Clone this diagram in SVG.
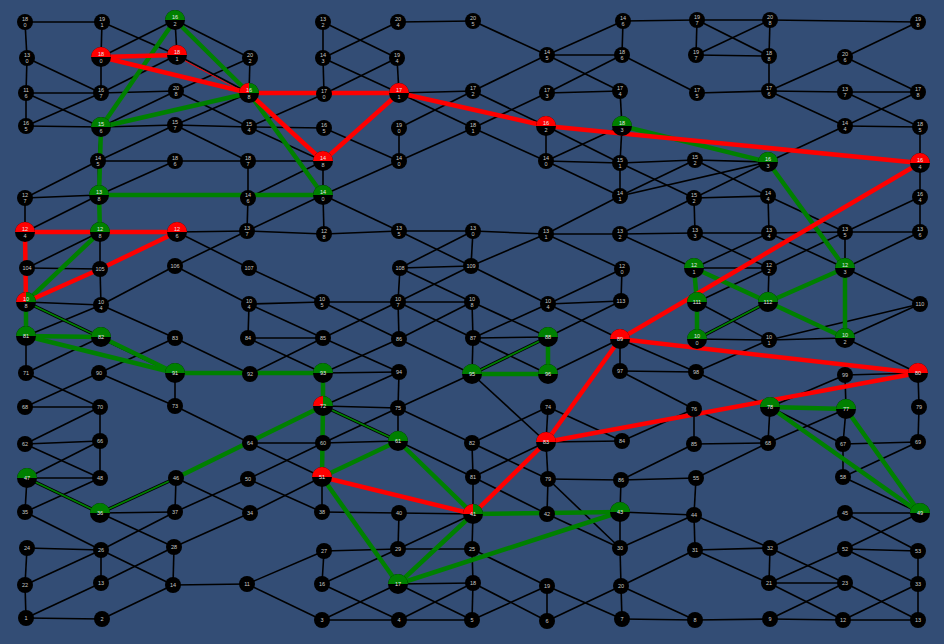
<svg xmlns="http://www.w3.org/2000/svg" width="944" height="644" viewBox="0 0 944 644">
<style>
.e line{stroke:#000;stroke-width:1.6}
.r{stroke:#f00;stroke-width:4.5;stroke-linecap:round}
.rt{stroke:#f00;stroke-width:1}
.g{stroke:#008000;stroke-width:4.5;stroke-linecap:round}
.gb{stroke:#000;stroke-width:3.4}
.gt{stroke:#008000;stroke-width:1.8}
.n circle{fill:#000}
.rf{fill:#f00}
.gf{fill:#008000}
text{font-family:"Liberation Sans",Arial,sans-serif;font-size:5.5px;fill:#c8c8c8;text-anchor:middle}
.c text.a{fill:#e8e8e8}
</style>
<rect width="944" height="644" fill="#334d75"/>
<g id="connectors">
<g class="e">
<line x1="25" y1="22" x2="102" y2="22"/><line x1="25" y1="22" x2="27" y2="58"/><line x1="102" y1="22" x2="101" y2="57"/><line x1="102" y1="22" x2="177" y2="55"/>
<line x1="175" y1="20" x2="101" y2="57"/><line x1="175" y1="20" x2="177" y2="55"/><line x1="175" y1="20" x2="250" y2="58"/>
<line x1="27" y1="58" x2="26" y2="93"/><line x1="27" y1="58" x2="101" y2="93"/><line x1="101" y1="57" x2="101" y2="93"/>
<line x1="26" y1="93" x2="101" y2="93"/><line x1="26" y1="93" x2="26" y2="126"/><line x1="26" y1="93" x2="101" y2="127"/>
<line x1="26" y1="126" x2="101" y2="93"/><line x1="26" y1="126" x2="101" y2="127"/><line x1="101" y1="93" x2="177" y2="55"/>
<line x1="101" y1="93" x2="176" y2="91"/><line x1="176" y1="91" x2="250" y2="58"/><line x1="176" y1="91" x2="249" y2="127"/>
<line x1="101" y1="127" x2="176" y2="91"/><line x1="101" y1="127" x2="175" y2="125"/><line x1="175" y1="125" x2="249" y2="127"/>
<line x1="175" y1="125" x2="248" y2="161"/><line x1="175" y1="125" x2="249" y2="93"/><line x1="101" y1="127" x2="98" y2="161"/>
<line x1="98" y1="161" x2="175" y2="161"/><line x1="98" y1="161" x2="175" y2="125"/><line x1="98" y1="161" x2="25" y2="198"/>
<line x1="98" y1="161" x2="99" y2="195"/><line x1="175" y1="161" x2="248" y2="161"/><line x1="175" y1="161" x2="99" y2="195"/>
<line x1="25" y1="198" x2="99" y2="195"/><line x1="25" y1="198" x2="25" y2="232"/><line x1="99" y1="195" x2="25" y2="232"/>
<line x1="250" y1="58" x2="249" y2="93"/><line x1="323" y1="22" x2="323" y2="58"/><line x1="323" y1="22" x2="397" y2="58"/>
<line x1="323" y1="58" x2="398" y2="22"/><line x1="398" y1="22" x2="473" y2="21"/><line x1="323" y1="58" x2="324" y2="94"/>
<line x1="323" y1="58" x2="399" y2="93"/><line x1="397" y1="58" x2="399" y2="93"/><line x1="397" y1="58" x2="324" y2="94"/>
<line x1="249" y1="93" x2="324" y2="94"/><line x1="399" y1="93" x2="473" y2="91"/><line x1="399" y1="93" x2="473" y2="128"/>
<line x1="324" y1="94" x2="249" y2="127"/><line x1="249" y1="127" x2="324" y2="128"/><line x1="249" y1="127" x2="323" y2="161"/>
<line x1="324" y1="128" x2="399" y2="161"/><line x1="399" y1="128" x2="399" y2="161"/><line x1="399" y1="161" x2="473" y2="128"/>
<line x1="399" y1="128" x2="473" y2="91"/><line x1="248" y1="161" x2="323" y2="161"/><line x1="248" y1="161" x2="248" y2="198"/>
<line x1="323" y1="161" x2="323" y2="195"/><line x1="323" y1="161" x2="248" y2="198"/><line x1="323" y1="195" x2="247" y2="231"/>
<line x1="323" y1="195" x2="324" y2="234"/><line x1="323" y1="195" x2="399" y2="231"/><line x1="399" y1="161" x2="323" y2="195"/>
<line x1="248" y1="198" x2="247" y2="231"/><line x1="177" y1="55" x2="249" y2="93"/>
<line x1="473" y1="21" x2="547" y2="55"/><line x1="547" y1="55" x2="623" y2="21"/><line x1="547" y1="55" x2="622" y2="55"/>
<line x1="547" y1="55" x2="620" y2="91"/><line x1="547" y1="55" x2="473" y2="91"/><line x1="623" y1="21" x2="622" y2="55"/>
<line x1="623" y1="21" x2="697" y2="20"/><line x1="622" y1="55" x2="547" y2="93"/><line x1="622" y1="55" x2="697" y2="93"/>
<line x1="547" y1="93" x2="620" y2="91"/><line x1="620" y1="91" x2="622" y2="126"/><line x1="473" y1="91" x2="546" y2="126"/>
<line x1="473" y1="128" x2="547" y2="93"/><line x1="473" y1="128" x2="546" y2="161"/><line x1="546" y1="126" x2="546" y2="161"/>
<line x1="546" y1="126" x2="620" y2="163"/><line x1="622" y1="126" x2="546" y2="161"/><line x1="546" y1="161" x2="620" y2="163"/>
<line x1="546" y1="161" x2="620" y2="196"/><line x1="622" y1="126" x2="620" y2="163"/><line x1="620" y1="163" x2="620" y2="196"/>
<line x1="620" y1="163" x2="695" y2="160"/><line x1="620" y1="163" x2="694" y2="198"/><line x1="620" y1="196" x2="695" y2="160"/>
<line x1="620" y1="196" x2="768" y2="162"/><line x1="620" y1="196" x2="546" y2="234"/><line x1="694" y1="198" x2="620" y2="234"/>
<line x1="697" y1="20" x2="770" y2="20"/><line x1="697" y1="20" x2="769" y2="56"/><line x1="697" y1="20" x2="696" y2="55"/>
<line x1="696" y1="55" x2="770" y2="20"/><line x1="696" y1="55" x2="769" y2="56"/><line x1="770" y1="20" x2="918" y2="22"/>
<line x1="770" y1="20" x2="769" y2="56"/><line x1="769" y1="56" x2="769" y2="91"/><line x1="697" y1="93" x2="769" y2="91"/>
<line x1="769" y1="91" x2="845" y2="57"/><line x1="769" y1="91" x2="845" y2="92"/><line x1="769" y1="91" x2="845" y2="126"/>
<line x1="845" y1="57" x2="918" y2="22"/><line x1="845" y1="57" x2="918" y2="92"/><line x1="845" y1="92" x2="918" y2="92"/>
<line x1="845" y1="92" x2="920" y2="127"/><line x1="845" y1="126" x2="918" y2="92"/><line x1="845" y1="126" x2="920" y2="127"/>
<line x1="920" y1="127" x2="920" y2="163"/><line x1="845" y1="126" x2="768" y2="162"/><line x1="920" y1="163" x2="920" y2="197"/>
<line x1="695" y1="160" x2="768" y2="162"/><line x1="695" y1="160" x2="768" y2="196"/><line x1="694" y1="198" x2="768" y2="162"/>
<line x1="694" y1="198" x2="768" y2="196"/><line x1="694" y1="198" x2="695" y2="233"/><line x1="768" y1="196" x2="769" y2="233"/>
<line x1="768" y1="196" x2="845" y2="232"/><line x1="920" y1="197" x2="845" y2="232"/><line x1="920" y1="197" x2="920" y2="232"/>
<line x1="177" y1="232" x2="247" y2="231"/><line x1="177" y1="232" x2="249" y2="268"/><line x1="100" y1="232" x2="27" y2="268"/>
<line x1="100" y1="232" x2="100" y2="269"/><line x1="27" y1="268" x2="100" y2="269"/><line x1="27" y1="268" x2="26" y2="302"/>
<line x1="100" y1="269" x2="101" y2="305"/><line x1="26" y1="302" x2="101" y2="305"/><line x1="175" y1="266" x2="247" y2="231"/>
<line x1="175" y1="266" x2="249" y2="304"/><line x1="101" y1="305" x2="175" y2="266"/><line x1="101" y1="305" x2="26" y2="336"/>
<line x1="101" y1="305" x2="175" y2="338"/><line x1="26" y1="336" x2="26" y2="373"/><line x1="26" y1="373" x2="101" y2="337"/>
<line x1="26" y1="373" x2="100" y2="407"/><line x1="99" y1="373" x2="175" y2="338"/><line x1="99" y1="373" x2="175" y2="406"/>
<line x1="25" y1="407" x2="99" y2="373"/><line x1="25" y1="407" x2="100" y2="407"/><line x1="175" y1="373" x2="175" y2="406"/>
<line x1="175" y1="338" x2="250" y2="374"/><line x1="100" y1="407" x2="25" y2="444"/><line x1="100" y1="407" x2="100" y2="441"/>
<line x1="175" y1="406" x2="250" y2="443"/>
<line x1="247" y1="231" x2="324" y2="234"/><line x1="324" y1="234" x2="399" y2="231"/><line x1="399" y1="231" x2="473" y2="231"/>
<line x1="399" y1="231" x2="471" y2="266"/><line x1="400" y1="268" x2="473" y2="231"/><line x1="400" y1="268" x2="471" y2="266"/>
<line x1="400" y1="268" x2="472" y2="302"/><line x1="400" y1="268" x2="398" y2="302"/><line x1="249" y1="268" x2="322" y2="302"/>
<line x1="249" y1="304" x2="322" y2="302"/><line x1="249" y1="304" x2="248" y2="338"/><line x1="249" y1="304" x2="323" y2="338"/>
<line x1="322" y1="302" x2="398" y2="302"/><line x1="322" y1="302" x2="399" y2="339"/><line x1="323" y1="338" x2="398" y2="302"/>
<line x1="248" y1="338" x2="323" y2="338"/><line x1="248" y1="338" x2="323" y2="373"/><line x1="323" y1="338" x2="250" y2="374"/>
<line x1="323" y1="338" x2="399" y2="372"/><line x1="398" y1="302" x2="471" y2="266"/><line x1="398" y1="302" x2="472" y2="302"/>
<line x1="398" y1="302" x2="473" y2="338"/><line x1="398" y1="302" x2="399" y2="339"/><line x1="399" y1="339" x2="472" y2="302"/>
<line x1="399" y1="339" x2="472" y2="374"/><line x1="323" y1="373" x2="399" y2="372"/><line x1="323" y1="373" x2="399" y2="339"/>
<line x1="399" y1="372" x2="323" y2="406"/><line x1="399" y1="372" x2="398" y2="408"/><line x1="323" y1="406" x2="398" y2="408"/>
<line x1="398" y1="408" x2="323" y2="443"/><line x1="398" y1="408" x2="472" y2="443"/><line x1="398" y1="408" x2="398" y2="441"/>
<line x1="472" y1="374" x2="398" y2="408"/>
<line x1="473" y1="231" x2="546" y2="234"/><line x1="473" y1="231" x2="471" y2="266"/><line x1="546" y1="234" x2="620" y2="234"/>
<line x1="546" y1="234" x2="622" y2="269"/><line x1="546" y1="234" x2="471" y2="266"/><line x1="620" y1="234" x2="695" y2="233"/>
<line x1="620" y1="234" x2="694" y2="268"/><line x1="471" y1="266" x2="548" y2="304"/><line x1="622" y1="269" x2="621" y2="301"/>
<line x1="548" y1="304" x2="621" y2="301"/><line x1="548" y1="304" x2="622" y2="269"/><line x1="548" y1="304" x2="473" y2="338"/>
<line x1="548" y1="304" x2="620" y2="339"/><line x1="472" y1="302" x2="473" y2="338"/><line x1="472" y1="302" x2="548" y2="337"/>
<line x1="473" y1="338" x2="548" y2="337"/><line x1="473" y1="338" x2="548" y2="374"/><line x1="473" y1="338" x2="472" y2="374"/>
<line x1="621" y1="301" x2="548" y2="337"/><line x1="548" y1="374" x2="620" y2="339"/><line x1="472" y1="374" x2="546" y2="442"/>
<line x1="548" y1="407" x2="472" y2="443"/><line x1="548" y1="407" x2="622" y2="441"/><line x1="548" y1="407" x2="546" y2="442"/>
<line x1="620" y1="339" x2="620" y2="371"/><line x1="620" y1="371" x2="696" y2="372"/><line x1="620" y1="371" x2="694" y2="409"/>
<line x1="620" y1="339" x2="696" y2="372"/><line x1="695" y1="233" x2="769" y2="233"/><line x1="695" y1="233" x2="769" y2="268"/>
<line x1="769" y1="233" x2="694" y2="268"/><line x1="769" y1="233" x2="845" y2="232"/><line x1="769" y1="233" x2="845" y2="268"/>
<line x1="845" y1="232" x2="920" y2="232"/><line x1="845" y1="232" x2="845" y2="268"/><line x1="920" y1="232" x2="845" y2="268"/>
<line x1="845" y1="268" x2="920" y2="304"/><line x1="694" y1="268" x2="769" y2="268"/><line x1="769" y1="268" x2="768" y2="302"/>
<line x1="769" y1="268" x2="845" y2="232"/><line x1="697" y1="302" x2="769" y2="268"/><line x1="697" y1="302" x2="769" y2="340"/>
<line x1="697" y1="339" x2="769" y2="340"/><line x1="769" y1="340" x2="920" y2="304"/><line x1="769" y1="340" x2="845" y2="338"/>
<line x1="845" y1="338" x2="920" y2="304"/><line x1="845" y1="338" x2="918" y2="373"/><line x1="769" y1="340" x2="696" y2="372"/>
<line x1="845" y1="375" x2="918" y2="373"/><line x1="845" y1="375" x2="770" y2="407"/><line x1="845" y1="375" x2="846" y2="409"/>
<line x1="918" y1="373" x2="919" y2="407"/><line x1="696" y1="372" x2="770" y2="407"/><line x1="770" y1="407" x2="768" y2="443"/>
<line x1="694" y1="409" x2="622" y2="441"/><line x1="694" y1="409" x2="694" y2="444"/><line x1="694" y1="409" x2="768" y2="443"/>
<line x1="694" y1="444" x2="768" y2="443"/><line x1="768" y1="443" x2="696" y2="478"/><line x1="768" y1="443" x2="846" y2="409"/>
<line x1="846" y1="409" x2="843" y2="444"/><line x1="770" y1="407" x2="843" y2="444"/><line x1="843" y1="444" x2="918" y2="442"/>
<line x1="843" y1="444" x2="843" y2="477"/><line x1="919" y1="407" x2="918" y2="442"/><line x1="918" y1="442" x2="843" y2="477"/>
<line x1="843" y1="477" x2="920" y2="513"/><line x1="845" y1="513" x2="920" y2="513"/><line x1="845" y1="513" x2="918" y2="551"/>
<line x1="920" y1="513" x2="845" y2="549"/><line x1="845" y1="549" x2="918" y2="551"/><line x1="845" y1="549" x2="918" y2="584"/>
<line x1="845" y1="549" x2="769" y2="583"/><line x1="695" y1="550" x2="770" y2="548"/><line x1="694" y1="515" x2="770" y2="548"/>
<line x1="770" y1="548" x2="845" y2="583"/><line x1="770" y1="548" x2="845" y2="513"/><line x1="770" y1="548" x2="769" y2="583"/>
<line x1="695" y1="550" x2="769" y2="583"/><line x1="769" y1="583" x2="845" y2="583"/><line x1="769" y1="583" x2="843" y2="620"/>
<line x1="845" y1="583" x2="918" y2="620"/><line x1="845" y1="583" x2="770" y2="619"/><line x1="918" y1="551" x2="918" y2="584"/>
<line x1="918" y1="584" x2="843" y2="620"/><line x1="918" y1="584" x2="918" y2="620"/><line x1="695" y1="620" x2="770" y2="619"/>
<line x1="770" y1="619" x2="843" y2="620"/><line x1="843" y1="620" x2="918" y2="620"/>
<line x1="472" y1="443" x2="473" y2="477"/><line x1="472" y1="443" x2="548" y2="479"/><line x1="546" y1="442" x2="622" y2="441"/>
<line x1="546" y1="442" x2="548" y2="479"/><line x1="546" y1="442" x2="473" y2="477"/><line x1="548" y1="479" x2="621" y2="480"/>
<line x1="621" y1="480" x2="694" y2="444"/><line x1="621" y1="480" x2="696" y2="478"/><line x1="621" y1="480" x2="620" y2="512"/>
<line x1="473" y1="477" x2="547" y2="514"/><line x1="473" y1="477" x2="473" y2="514"/><line x1="548" y1="479" x2="620" y2="548"/>
<line x1="548" y1="479" x2="547" y2="514"/><line x1="547" y1="514" x2="620" y2="548"/><line x1="620" y1="512" x2="694" y2="515"/>
<line x1="620" y1="512" x2="620" y2="548"/><line x1="620" y1="548" x2="694" y2="515"/><line x1="620" y1="548" x2="621" y2="586"/>
<line x1="694" y1="515" x2="695" y2="550"/><line x1="696" y1="478" x2="694" y2="515"/><line x1="473" y1="514" x2="472" y2="549"/>
<line x1="472" y1="549" x2="547" y2="586"/><line x1="472" y1="549" x2="473" y2="583"/><line x1="473" y1="583" x2="547" y2="621"/>
<line x1="473" y1="583" x2="472" y2="620"/><line x1="547" y1="586" x2="547" y2="621"/><line x1="547" y1="586" x2="472" y2="620"/>
<line x1="547" y1="586" x2="622" y2="619"/><line x1="621" y1="586" x2="695" y2="550"/><line x1="621" y1="586" x2="695" y2="620"/>
<line x1="621" y1="586" x2="622" y2="619"/><line x1="621" y1="586" x2="547" y2="621"/><line x1="622" y1="619" x2="695" y2="620"/>
<line x1="398" y1="549" x2="472" y2="549"/><line x1="398" y1="584" x2="473" y2="583"/>
<line x1="250" y1="443" x2="323" y2="443"/><line x1="250" y1="443" x2="322" y2="477"/><line x1="323" y1="443" x2="398" y2="441"/>
<line x1="323" y1="443" x2="248" y2="479"/><line x1="322" y1="477" x2="322" y2="512"/><line x1="322" y1="477" x2="250" y2="513"/>
<line x1="248" y1="479" x2="322" y2="512"/><line x1="175" y1="512" x2="248" y2="479"/><line x1="322" y1="512" x2="399" y2="513"/>
<line x1="399" y1="513" x2="398" y2="549"/><line x1="399" y1="513" x2="473" y2="514"/><line x1="398" y1="441" x2="473" y2="477"/>
<line x1="324" y1="551" x2="398" y2="549"/><line x1="324" y1="551" x2="322" y2="584"/><line x1="324" y1="551" x2="247" y2="584"/>
<line x1="398" y1="549" x2="473" y2="514"/><line x1="398" y1="549" x2="322" y2="584"/><line x1="247" y1="584" x2="322" y2="620"/>
<line x1="173" y1="585" x2="247" y2="584"/><line x1="322" y1="584" x2="399" y2="620"/><line x1="398" y1="584" x2="322" y2="620"/>
<line x1="398" y1="584" x2="472" y2="620"/><line x1="322" y1="620" x2="399" y2="620"/><line x1="399" y1="620" x2="473" y2="583"/>
<line x1="399" y1="620" x2="472" y2="620"/>
<line x1="25" y1="444" x2="100" y2="441"/><line x1="25" y1="444" x2="100" y2="478"/><line x1="100" y1="441" x2="100" y2="478"/>
<line x1="100" y1="441" x2="27" y2="478"/><line x1="27" y1="478" x2="100" y2="478"/><line x1="27" y1="478" x2="25" y2="512"/>
<line x1="100" y1="478" x2="25" y2="512"/><line x1="25" y1="512" x2="101" y2="550"/><line x1="100" y1="513" x2="175" y2="512"/>
<line x1="100" y1="513" x2="174" y2="547"/><line x1="176" y1="478" x2="175" y2="512"/><line x1="176" y1="478" x2="250" y2="513"/>
<line x1="175" y1="512" x2="101" y2="550"/><line x1="27" y1="548" x2="101" y2="550"/><line x1="27" y1="548" x2="25" y2="585"/>
<line x1="101" y1="550" x2="101" y2="583"/><line x1="101" y1="550" x2="173" y2="585"/><line x1="174" y1="547" x2="250" y2="513"/>
<line x1="174" y1="547" x2="173" y2="585"/><line x1="25" y1="585" x2="101" y2="550"/><line x1="25" y1="585" x2="26" y2="618"/>
<line x1="101" y1="583" x2="174" y2="547"/><line x1="101" y1="583" x2="26" y2="618"/><line x1="173" y1="585" x2="102" y2="619"/>
<line x1="26" y1="618" x2="102" y2="619"/>
</g>
<g>
<line class="gb" x1="26" y1="302" x2="175" y2="373"/><line class="gt" x1="26" y1="302" x2="175" y2="373"/>
<line class="gb" x1="548" y1="337" x2="472" y2="374"/><line class="gt" x1="548" y1="337" x2="472" y2="374"/>
<line class="gb" x1="697" y1="339" x2="768" y2="302"/><line class="gt" x1="697" y1="339" x2="768" y2="302"/>
<line class="gb" x1="323" y1="406" x2="398" y2="441"/><line class="gt" x1="323" y1="406" x2="398" y2="441"/>
<line class="gb" x1="27" y1="478" x2="100" y2="513"/><line class="gt" x1="27" y1="478" x2="100" y2="513"/>
<line class="gb" x1="100" y1="513" x2="176" y2="478"/><line class="gt" x1="100" y1="513" x2="176" y2="478"/>
</g>
<g class="g">
<line x1="175" y1="20" x2="101" y2="127"/><line x1="175" y1="20" x2="249" y2="93"/><line x1="101" y1="127" x2="249" y2="93"/>
<line x1="101" y1="127" x2="99" y2="195"/><line x1="249" y1="93" x2="323" y2="195"/><line x1="99" y1="195" x2="323" y2="195"/>
<line x1="99" y1="195" x2="100" y2="232"/><line x1="100" y1="232" x2="26" y2="302"/><line x1="26" y1="302" x2="26" y2="336"/>
<line x1="26" y1="336" x2="101" y2="337"/><line x1="26" y1="336" x2="175" y2="373"/><line x1="101" y1="337" x2="175" y2="373"/>
<line x1="175" y1="373" x2="323" y2="373"/><line x1="323" y1="373" x2="323" y2="406"/><line x1="323" y1="406" x2="322" y2="477"/>
<line x1="176" y1="478" x2="323" y2="406"/><line x1="322" y1="477" x2="398" y2="441"/><line x1="322" y1="477" x2="398" y2="584"/>
<line x1="398" y1="441" x2="473" y2="514"/><line x1="473" y1="514" x2="620" y2="512"/><line x1="620" y1="512" x2="398" y2="584"/>
<line x1="473" y1="514" x2="398" y2="584"/><line x1="622" y1="126" x2="768" y2="162"/><line x1="768" y1="162" x2="845" y2="268"/>
<line x1="694" y1="268" x2="697" y2="302"/><line x1="697" y1="302" x2="697" y2="339"/><line x1="694" y1="268" x2="768" y2="302"/>
<line x1="845" y1="268" x2="768" y2="302"/><line x1="768" y1="302" x2="845" y2="338"/><line x1="845" y1="268" x2="845" y2="338"/>
<line x1="472" y1="374" x2="548" y2="374"/><line x1="548" y1="337" x2="548" y2="374"/><line x1="770" y1="407" x2="846" y2="409"/>
<line x1="770" y1="407" x2="920" y2="513"/><line x1="846" y1="409" x2="920" y2="513"/>
</g>
<g class="r">
<line x1="101" y1="57" x2="177" y2="55"/><line x1="101" y1="57" x2="249" y2="93"/><line x1="249" y1="93" x2="399" y2="93"/>
<line x1="249" y1="93" x2="323" y2="161"/><line x1="323" y1="161" x2="399" y2="93"/><line x1="399" y1="93" x2="546" y2="126"/>
<line x1="546" y1="126" x2="920" y2="163"/><line x1="920" y1="163" x2="620" y2="339"/><line x1="25" y1="232" x2="177" y2="232"/>
<line x1="25" y1="232" x2="26" y2="302"/><line x1="26" y1="302" x2="100" y2="269"/><line x1="100" y1="269" x2="177" y2="232"/>
<line x1="620" y1="339" x2="918" y2="373"/><line x1="620" y1="339" x2="546" y2="442"/><line x1="546" y1="442" x2="918" y2="373"/>
<line x1="546" y1="442" x2="473" y2="514"/><line x1="322" y1="477" x2="473" y2="514"/>
</g>
<line class="rt" x1="178" y1="57" x2="249" y2="95"/>
</g>
<g id="nodes" class="n">
<g id="n18a"><circle cx="25" cy="22" r="8"/><text x="25" y="20.5">18</text><text x="25" y="27">0</text></g>
<g id="n19a"><circle cx="102" cy="22" r="8"/><text x="102" y="20.5">19</text><text x="102" y="27">1</text></g>
<g id="n16a" class="c"><circle cx="175" cy="20" r="10"/><path class="gf" d="M165,20A10,10 0 0 1 185,20Z"/><text class="a" x="175" y="18.5">16</text><text x="175" y="26">2</text></g>
<g id="n13a"><circle cx="323" cy="22" r="8"/><text x="323" y="20.5">13</text><text x="323" y="27">2</text></g>
<g id="n20a"><circle cx="398" cy="22" r="8"/><text x="398" y="20.5">20</text><text x="398" y="27">4</text></g>
<g id="n20b"><circle cx="473" cy="21" r="8"/><text x="473" y="19.5">20</text><text x="473" y="26">5</text></g>
<g id="n14a"><circle cx="623" cy="21" r="8"/><text x="623" y="19.5">14</text><text x="623" y="26">6</text></g>
<g id="n19b"><circle cx="697" cy="20" r="8"/><text x="697" y="18.5">19</text><text x="697" y="25">7</text></g>
<g id="n20c"><circle cx="770" cy="20" r="8"/><text x="770" y="18.5">20</text><text x="770" y="25">8</text></g>
<g id="n19c"><circle cx="918" cy="22" r="8"/><text x="918" y="20.5">19</text><text x="918" y="27">8</text></g>
<g id="n13b"><circle cx="27" cy="58" r="8"/><text x="27" y="56.5">13</text><text x="27" y="63">0</text></g>
<g id="n18b" class="c"><circle cx="101" cy="57" r="10"/><path class="rf" d="M91,57A10,10 0 0 1 111,57Z"/><text class="a" x="101" y="55.5">18</text><text x="101" y="63">0</text></g>
<g id="n18c" class="c"><circle cx="177" cy="55" r="10"/><path class="rf" d="M167,55A10,10 0 0 1 187,55Z"/><text class="a" x="177" y="53.5">18</text><text x="177" y="61">1</text></g>
<g id="n20d"><circle cx="250" cy="58" r="8"/><text x="250" y="56.5">20</text><text x="250" y="63">2</text></g>
<g id="n14b"><circle cx="323" cy="58" r="8"/><text x="323" y="56.5">14</text><text x="323" y="63">3</text></g>
<g id="n19d"><circle cx="397" cy="58" r="8"/><text x="397" y="56.5">19</text><text x="397" y="63">4</text></g>
<g id="n14c"><circle cx="547" cy="55" r="8"/><text x="547" y="53.5">14</text><text x="547" y="60">5</text></g>
<g id="n18d"><circle cx="622" cy="55" r="8"/><text x="622" y="53.5">18</text><text x="622" y="60">6</text></g>
<g id="n19e"><circle cx="696" cy="55" r="8"/><text x="696" y="53.5">19</text><text x="696" y="60">7</text></g>
<g id="n18e"><circle cx="769" cy="56" r="8"/><text x="769" y="54.5">18</text><text x="769" y="61">8</text></g>
<g id="n20e"><circle cx="845" cy="57" r="8"/><text x="845" y="55.5">20</text><text x="845" y="62">6</text></g>
<g id="n11a"><circle cx="26" cy="93" r="8"/><text x="26" y="91.5">11</text><text x="26" y="98">6</text></g>
<g id="n16b"><circle cx="101" cy="93" r="8"/><text x="101" y="91.5">16</text><text x="101" y="98">7</text></g>
<g id="n20f"><circle cx="176" cy="91" r="8"/><text x="176" y="89.5">20</text><text x="176" y="96">8</text></g>
<g id="n16c" class="c"><circle cx="249" cy="93" r="10"/><path class="rf" d="M249,93H239A10,10 0 0 1 249,83Z"/><path class="gf" d="M249,93V83A10,10 0 0 1 259,93Z"/><text class="a" x="249" y="91.5">16</text><text x="249" y="99">8</text></g>
<g id="n17a"><circle cx="324" cy="94" r="8"/><text x="324" y="92.5">17</text><text x="324" y="99">0</text></g>
<g id="n17b" class="c"><circle cx="399" cy="93" r="10"/><path class="rf" d="M389,93A10,10 0 0 1 409,93Z"/><text class="a" x="399" y="91.5">17</text><text x="399" y="99">1</text></g>
<g id="n17c"><circle cx="473" cy="91" r="8"/><text x="473" y="89.5">17</text><text x="473" y="96">2</text></g>
<g id="n17d"><circle cx="547" cy="93" r="8"/><text x="547" y="91.5">17</text><text x="547" y="98">3</text></g>
<g id="n17e"><circle cx="620" cy="91" r="8"/><text x="620" y="89.5">17</text><text x="620" y="96">4</text></g>
<g id="n17f"><circle cx="697" cy="93" r="8"/><text x="697" y="91.5">17</text><text x="697" y="98">5</text></g>
<g id="n17g"><circle cx="769" cy="91" r="8"/><text x="769" y="89.5">17</text><text x="769" y="96">6</text></g>
<g id="n13c"><circle cx="845" cy="92" r="8"/><text x="845" y="90.5">13</text><text x="845" y="97">7</text></g>
<g id="n17h"><circle cx="918" cy="92" r="8"/><text x="918" y="90.5">17</text><text x="918" y="97">8</text></g>
<g id="n16d"><circle cx="26" cy="126" r="8"/><text x="26" y="124.5">16</text><text x="26" y="131">5</text></g>
<g id="n15a" class="c"><circle cx="101" cy="127" r="10"/><path class="gf" d="M91,127A10,10 0 0 1 111,127Z"/><text class="a" x="101" y="125.5">15</text><text x="101" y="133">6</text></g>
<g id="n15b"><circle cx="175" cy="125" r="8"/><text x="175" y="123.5">15</text><text x="175" y="130">7</text></g>
<g id="n15c"><circle cx="249" cy="127" r="8"/><text x="249" y="125.5">15</text><text x="249" y="132">4</text></g>
<g id="n16e"><circle cx="324" cy="128" r="8"/><text x="324" y="126.5">16</text><text x="324" y="133">5</text></g>
<g id="n19f"><circle cx="399" cy="128" r="8"/><text x="399" y="126.5">19</text><text x="399" y="133">0</text></g>
<g id="n18f"><circle cx="473" cy="128" r="8"/><text x="473" y="126.5">18</text><text x="473" y="133">1</text></g>
<g id="n16f" class="c"><circle cx="546" cy="126" r="10"/><path class="rf" d="M536,126A10,10 0 0 1 556,126Z"/><text class="a" x="546" y="124.5">16</text><text x="546" y="132">2</text></g>
<g id="n18g" class="c"><circle cx="622" cy="126" r="10"/><path class="gf" d="M612,126A10,10 0 0 1 632,126Z"/><text class="a" x="622" y="124.5">18</text><text x="622" y="132">3</text></g>
<g id="n14d"><circle cx="845" cy="126" r="8"/><text x="845" y="124.5">14</text><text x="845" y="131">4</text></g>
<g id="n18h"><circle cx="920" cy="127" r="8"/><text x="920" y="125.5">18</text><text x="920" y="132">5</text></g>
<g id="n14e"><circle cx="98" cy="161" r="8"/><text x="98" y="159.5">14</text><text x="98" y="166">5</text></g>
<g id="n18i"><circle cx="175" cy="161" r="8"/><text x="175" y="159.5">18</text><text x="175" y="166">6</text></g>
<g id="n18j"><circle cx="248" cy="161" r="8"/><text x="248" y="159.5">18</text><text x="248" y="166">7</text></g>
<g id="n14f" class="c"><circle cx="323" cy="161" r="10"/><path class="rf" d="M313,161A10,10 0 0 1 333,161Z"/><text class="a" x="323" y="159.5">14</text><text x="323" y="167">8</text></g>
<g id="n14g"><circle cx="399" cy="161" r="8"/><text x="399" y="159.5">14</text><text x="399" y="166">0</text></g>
<g id="n14h"><circle cx="546" cy="161" r="8"/><text x="546" y="159.5">14</text><text x="546" y="166">0</text></g>
<g id="n15d"><circle cx="620" cy="163" r="8"/><text x="620" y="161.5">15</text><text x="620" y="168">1</text></g>
<g id="n15e"><circle cx="695" cy="160" r="8"/><text x="695" y="158.5">15</text><text x="695" y="165">2</text></g>
<g id="n16g" class="c"><circle cx="768" cy="162" r="10"/><path class="gf" d="M758,162A10,10 0 0 1 778,162Z"/><text class="a" x="768" y="160.5">16</text><text x="768" y="168">3</text></g>
<g id="n16h" class="c"><circle cx="920" cy="163" r="10"/><path class="rf" d="M910,163A10,10 0 0 1 930,163Z"/><text class="a" x="920" y="161.5">16</text><text x="920" y="169">4</text></g>
<g id="n12a"><circle cx="25" cy="198" r="8"/><text x="25" y="196.5">12</text><text x="25" y="203">7</text></g>
<g id="n13d" class="c"><circle cx="99" cy="195" r="10"/><path class="gf" d="M89,195A10,10 0 0 1 109,195Z"/><text class="a" x="99" y="193.5">13</text><text x="99" y="201">8</text></g>
<g id="n14i"><circle cx="248" cy="198" r="8"/><text x="248" y="196.5">14</text><text x="248" y="203">6</text></g>
<g id="n14j" class="c"><circle cx="323" cy="195" r="10"/><path class="gf" d="M313,195A10,10 0 0 1 333,195Z"/><text class="a" x="323" y="193.5">14</text><text x="323" y="201">0</text></g>
<g id="n14k"><circle cx="620" cy="196" r="8"/><text x="620" y="194.5">14</text><text x="620" y="201">1</text></g>
<g id="n15f"><circle cx="694" cy="198" r="8"/><text x="694" y="196.5">15</text><text x="694" y="203">2</text></g>
<g id="n14l"><circle cx="768" cy="196" r="8"/><text x="768" y="194.5">14</text><text x="768" y="201">4</text></g>
<g id="n16i"><circle cx="920" cy="197" r="8"/><text x="920" y="195.5">16</text><text x="920" y="202">4</text></g>
<g id="n12b" class="c"><circle cx="25" cy="232" r="10"/><path class="rf" d="M15,232A10,10 0 0 1 35,232Z"/><text class="a" x="25" y="230.5">12</text><text x="25" y="238">4</text></g>
<g id="n12c" class="c"><circle cx="100" cy="232" r="10"/><path class="gf" d="M90,232A10,10 0 0 1 110,232Z"/><text class="a" x="100" y="230.5">12</text><text x="100" y="238">8</text></g>
<g id="n12d" class="c"><circle cx="177" cy="232" r="10"/><path class="rf" d="M167,232A10,10 0 0 1 187,232Z"/><text class="a" x="177" y="230.5">12</text><text x="177" y="238">6</text></g>
<g id="n13e"><circle cx="247" cy="231" r="8"/><text x="247" y="229.5">13</text><text x="247" y="236">7</text></g>
<g id="n12e"><circle cx="324" cy="234" r="8"/><text x="324" y="232.5">12</text><text x="324" y="239">8</text></g>
<g id="n13f"><circle cx="399" cy="231" r="8"/><text x="399" y="229.5">13</text><text x="399" y="236">5</text></g>
<g id="n13g"><circle cx="473" cy="231" r="8"/><text x="473" y="229.5">13</text><text x="473" y="236">0</text></g>
<g id="n13h"><circle cx="546" cy="234" r="8"/><text x="546" y="232.5">13</text><text x="546" y="239">1</text></g>
<g id="n13i"><circle cx="620" cy="234" r="8"/><text x="620" y="232.5">13</text><text x="620" y="239">2</text></g>
<g id="n13j"><circle cx="695" cy="233" r="8"/><text x="695" y="231.5">13</text><text x="695" y="238">3</text></g>
<g id="n13k"><circle cx="769" cy="233" r="8"/><text x="769" y="231.5">13</text><text x="769" y="238">4</text></g>
<g id="n13l"><circle cx="845" cy="232" r="8"/><text x="845" y="230.5">13</text><text x="845" y="237">5</text></g>
<g id="n13m"><circle cx="920" cy="232" r="8"/><text x="920" y="230.5">13</text><text x="920" y="237">6</text></g>
<g id="n104"><circle cx="27" cy="268" r="8"/><text x="27" y="270">104</text></g>
<g id="n105"><circle cx="100" cy="269" r="8"/><text x="100" y="271">105</text></g>
<g id="n106"><circle cx="175" cy="266" r="8"/><text x="175" y="268">106</text></g>
<g id="n107"><circle cx="249" cy="268" r="8"/><text x="249" y="270">107</text></g>
<g id="n108"><circle cx="400" cy="268" r="8"/><text x="400" y="270">108</text></g>
<g id="n109"><circle cx="471" cy="266" r="8"/><text x="471" y="268">109</text></g>
<g id="n12f"><circle cx="622" cy="269" r="8"/><text x="622" y="267.5">12</text><text x="622" y="274">0</text></g>
<g id="n12g" class="c"><circle cx="694" cy="268" r="10"/><path class="gf" d="M684,268A10,10 0 0 1 704,268Z"/><text class="a" x="694" y="266.5">12</text><text x="694" y="274">1</text></g>
<g id="n12h"><circle cx="769" cy="268" r="8"/><text x="769" y="266.5">12</text><text x="769" y="273">2</text></g>
<g id="n12i" class="c"><circle cx="845" cy="268" r="10"/><path class="gf" d="M835,268A10,10 0 0 1 855,268Z"/><text class="a" x="845" y="266.5">12</text><text x="845" y="274">3</text></g>
<g id="n10a" class="c"><circle cx="26" cy="302" r="10"/><path class="rf" d="M26,302H16A10,10 0 0 1 26,292Z"/><path class="gf" d="M26,302V292A10,10 0 0 1 36,302Z"/><text class="a" x="26" y="300.5">10</text><text x="26" y="308">8</text></g>
<g id="n10b"><circle cx="101" cy="305" r="8"/><text x="101" y="303.5">10</text><text x="101" y="310">4</text></g>
<g id="n10c"><circle cx="249" cy="304" r="8"/><text x="249" y="302.5">10</text><text x="249" y="309">4</text></g>
<g id="n10d"><circle cx="322" cy="302" r="8"/><text x="322" y="300.5">10</text><text x="322" y="307">5</text></g>
<g id="n10e"><circle cx="398" cy="302" r="8"/><text x="398" y="300.5">10</text><text x="398" y="307">7</text></g>
<g id="n10f"><circle cx="472" cy="302" r="8"/><text x="472" y="300.5">10</text><text x="472" y="307">8</text></g>
<g id="n10g"><circle cx="548" cy="304" r="8"/><text x="548" y="302.5">10</text><text x="548" y="309">4</text></g>
<g id="n113"><circle cx="621" cy="301" r="8"/><text x="621" y="303">113</text></g>
<g id="n111" class="c"><circle cx="697" cy="302" r="10"/><path class="gf" d="M687,302A10,10 0 0 1 707,302Z"/><text class="a" x="697" y="304">111</text></g>
<g id="n112" class="c"><circle cx="768" cy="302" r="10"/><path class="gf" d="M758,302A10,10 0 0 1 778,302Z"/><text class="a" x="768" y="304">112</text></g>
<g id="n110"><circle cx="920" cy="304" r="8"/><text x="920" y="306">110</text></g>
<g id="n81" class="c"><circle cx="26" cy="336" r="10"/><path class="gf" d="M16,336A10,10 0 0 1 36,336Z"/><text class="a" x="26" y="338">81</text></g>
<g id="n82" class="c"><circle cx="101" cy="337" r="10"/><path class="gf" d="M91,337A10,10 0 0 1 111,337Z"/><text class="a" x="101" y="339">82</text></g>
<g id="n83"><circle cx="175" cy="338" r="8"/><text x="175" y="340">83</text></g>
<g id="n84"><circle cx="248" cy="338" r="8"/><text x="248" y="340">84</text></g>
<g id="n85"><circle cx="323" cy="338" r="8"/><text x="323" y="340">85</text></g>
<g id="n86"><circle cx="399" cy="339" r="8"/><text x="399" y="341">86</text></g>
<g id="n87"><circle cx="473" cy="338" r="8"/><text x="473" y="340">87</text></g>
<g id="n88" class="c"><circle cx="548" cy="337" r="10"/><path class="gf" d="M538,337A10,10 0 0 1 558,337Z"/><text class="a" x="548" y="339">88</text></g>
<g id="n89" class="c"><circle cx="620" cy="339" r="10"/><path class="rf" d="M610,339A10,10 0 0 1 630,339Z"/><text class="a" x="620" y="341">89</text></g>
<g id="n10h" class="c"><circle cx="697" cy="339" r="10"/><path class="gf" d="M687,339A10,10 0 0 1 707,339Z"/><text class="a" x="697" y="337.5">10</text><text x="697" y="345">0</text></g>
<g id="n10i"><circle cx="769" cy="340" r="8"/><text x="769" y="338.5">10</text><text x="769" y="345">1</text></g>
<g id="n10j" class="c"><circle cx="845" cy="338" r="10"/><path class="gf" d="M835,338A10,10 0 0 1 855,338Z"/><text class="a" x="845" y="336.5">10</text><text x="845" y="344">2</text></g>
<g id="n71"><circle cx="26" cy="373" r="8"/><text x="26" y="375">71</text></g>
<g id="n90"><circle cx="99" cy="373" r="8"/><text x="99" y="375">90</text></g>
<g id="n91" class="c"><circle cx="175" cy="373" r="10"/><path class="gf" d="M165,373A10,10 0 0 1 185,373Z"/><text class="a" x="175" y="375">91</text></g>
<g id="n92"><circle cx="250" cy="374" r="8"/><text x="250" y="376">92</text></g>
<g id="n93" class="c"><circle cx="323" cy="373" r="10"/><path class="gf" d="M313,373A10,10 0 0 1 333,373Z"/><text class="a" x="323" y="375">93</text></g>
<g id="n94"><circle cx="399" cy="372" r="8"/><text x="399" y="374">94</text></g>
<g id="n95" class="c"><circle cx="472" cy="374" r="10"/><path class="gf" d="M462,374A10,10 0 0 1 482,374Z"/><text class="a" x="472" y="376">95</text></g>
<g id="n96" class="c"><circle cx="548" cy="374" r="10"/><path class="gf" d="M538,374A10,10 0 0 1 558,374Z"/><text class="a" x="548" y="376">96</text></g>
<g id="n97"><circle cx="620" cy="371" r="8"/><text x="620" y="373">97</text></g>
<g id="n98"><circle cx="696" cy="372" r="8"/><text x="696" y="374">98</text></g>
<g id="n99"><circle cx="845" cy="375" r="8"/><text x="845" y="377">99</text></g>
<g id="n80" class="c"><circle cx="918" cy="373" r="10"/><path class="rf" d="M908,373A10,10 0 0 1 928,373Z"/><text class="a" x="918" y="375">80</text></g>
<g id="n68a"><circle cx="25" cy="407" r="8"/><text x="25" y="409">68</text></g>
<g id="n70"><circle cx="100" cy="407" r="8"/><text x="100" y="409">70</text></g>
<g id="n73"><circle cx="175" cy="406" r="8"/><text x="175" y="408">73</text></g>
<g id="n72" class="c"><circle cx="323" cy="406" r="10"/><path class="rf" d="M323,406H313A10,10 0 0 1 323,396Z"/><path class="gf" d="M323,406V396A10,10 0 0 1 333,406Z"/><text class="a" x="323" y="408">72</text></g>
<g id="n75"><circle cx="398" cy="408" r="8"/><text x="398" y="410">75</text></g>
<g id="n74"><circle cx="548" cy="407" r="8"/><text x="548" y="409">74</text></g>
<g id="n76"><circle cx="694" cy="409" r="8"/><text x="694" y="411">76</text></g>
<g id="n78" class="c"><circle cx="770" cy="407" r="10"/><path class="gf" d="M760,407A10,10 0 0 1 780,407Z"/><text class="a" x="770" y="409">78</text></g>
<g id="n77" class="c"><circle cx="846" cy="409" r="10"/><path class="gf" d="M836,409A10,10 0 0 1 856,409Z"/><text class="a" x="846" y="411">77</text></g>
<g id="n79"><circle cx="919" cy="407" r="8"/><text x="919" y="409">79</text></g>
<g id="n62"><circle cx="25" cy="444" r="8"/><text x="25" y="446">62</text></g>
<g id="n66"><circle cx="100" cy="441" r="8"/><text x="100" y="443">66</text></g>
<g id="n64"><circle cx="250" cy="443" r="8"/><text x="250" y="445">64</text></g>
<g id="n60"><circle cx="323" cy="443" r="8"/><text x="323" y="445">60</text></g>
<g id="n61" class="c"><circle cx="398" cy="441" r="10"/><path class="gf" d="M388,441A10,10 0 0 1 408,441Z"/><text class="a" x="398" y="443">61</text></g>
<g id="n82b"><circle cx="472" cy="443" r="8"/><text x="472" y="445">82</text></g>
<g id="n83b" class="c"><circle cx="546" cy="442" r="10"/><path class="rf" d="M536,442A10,10 0 0 1 556,442Z"/><text class="a" x="546" y="444">83</text></g>
<g id="n84b"><circle cx="622" cy="441" r="8"/><text x="622" y="443">84</text></g>
<g id="n85b"><circle cx="694" cy="444" r="8"/><text x="694" y="446">85</text></g>
<g id="n68"><circle cx="768" cy="443" r="8"/><text x="768" y="445">68</text></g>
<g id="n67"><circle cx="843" cy="444" r="8"/><text x="843" y="446">67</text></g>
<g id="n69"><circle cx="918" cy="442" r="8"/><text x="918" y="444">69</text></g>
<g id="n47" class="c"><circle cx="27" cy="478" r="10"/><path class="gf" d="M17,478A10,10 0 0 1 37,478Z"/><text class="a" x="27" y="480">47</text></g>
<g id="n48"><circle cx="100" cy="478" r="8"/><text x="100" y="480">48</text></g>
<g id="n46"><circle cx="176" cy="478" r="8"/><text x="176" y="480">46</text></g>
<g id="n50"><circle cx="248" cy="479" r="8"/><text x="248" y="481">50</text></g>
<g id="n51" class="c"><circle cx="322" cy="477" r="10"/><path class="rf" d="M312,477A10,10 0 0 1 332,477Z"/><text class="a" x="322" y="479">51</text></g>
<g id="n81b"><circle cx="473" cy="477" r="8"/><text x="473" y="479">81</text></g>
<g id="n79b"><circle cx="548" cy="479" r="8"/><text x="548" y="481">79</text></g>
<g id="n86b"><circle cx="621" cy="480" r="8"/><text x="621" y="482">86</text></g>
<g id="n55"><circle cx="696" cy="478" r="8"/><text x="696" y="480">55</text></g>
<g id="n58"><circle cx="843" cy="477" r="8"/><text x="843" y="479">58</text></g>
<g id="n35"><circle cx="25" cy="512" r="8"/><text x="25" y="514">35</text></g>
<g id="n36" class="c"><circle cx="100" cy="513" r="10"/><path class="gf" d="M90,513A10,10 0 0 1 110,513Z"/><text class="a" x="100" y="515">36</text></g>
<g id="n37"><circle cx="175" cy="512" r="8"/><text x="175" y="514">37</text></g>
<g id="n34"><circle cx="250" cy="513" r="8"/><text x="250" y="515">34</text></g>
<g id="n38"><circle cx="322" cy="512" r="8"/><text x="322" y="514">38</text></g>
<g id="n40"><circle cx="399" cy="513" r="8"/><text x="399" y="515">40</text></g>
<g id="n41" class="c"><circle cx="473" cy="514" r="10"/><path class="rf" d="M473,514H463A10,10 0 0 1 473,504Z"/><path class="gf" d="M473,514V504A10,10 0 0 1 483,514Z"/><text class="a" x="473" y="516">41</text></g>
<g id="n42"><circle cx="547" cy="514" r="8"/><text x="547" y="516">42</text></g>
<g id="n43" class="c"><circle cx="620" cy="512" r="10"/><path class="gf" d="M610,512A10,10 0 0 1 630,512Z"/><text class="a" x="620" y="514">43</text></g>
<g id="n44"><circle cx="694" cy="515" r="8"/><text x="694" y="517">44</text></g>
<g id="n45"><circle cx="845" cy="513" r="8"/><text x="845" y="515">45</text></g>
<g id="n49" class="c"><circle cx="920" cy="513" r="10"/><path class="gf" d="M910,513A10,10 0 0 1 930,513Z"/><text class="a" x="920" y="515">49</text></g>
<g id="n24"><circle cx="27" cy="548" r="8"/><text x="27" y="550">24</text></g>
<g id="n26"><circle cx="101" cy="550" r="8"/><text x="101" y="552">26</text></g>
<g id="n28"><circle cx="174" cy="547" r="8"/><text x="174" y="549">28</text></g>
<g id="n27"><circle cx="324" cy="551" r="8"/><text x="324" y="553">27</text></g>
<g id="n29"><circle cx="398" cy="549" r="8"/><text x="398" y="551">29</text></g>
<g id="n25"><circle cx="472" cy="549" r="8"/><text x="472" y="551">25</text></g>
<g id="n30"><circle cx="620" cy="548" r="8"/><text x="620" y="550">30</text></g>
<g id="n31"><circle cx="695" cy="550" r="8"/><text x="695" y="552">31</text></g>
<g id="n32"><circle cx="770" cy="548" r="8"/><text x="770" y="550">32</text></g>
<g id="n52"><circle cx="845" cy="549" r="8"/><text x="845" y="551">52</text></g>
<g id="n53"><circle cx="918" cy="551" r="8"/><text x="918" y="553">53</text></g>
<g id="n22"><circle cx="25" cy="585" r="8"/><text x="25" y="587">22</text></g>
<g id="n13n"><circle cx="101" cy="583" r="8"/><text x="101" y="585">13</text></g>
<g id="n14"><circle cx="173" cy="585" r="8"/><text x="173" y="587">14</text></g>
<g id="n11"><circle cx="247" cy="584" r="8"/><text x="247" y="586">11</text></g>
<g id="n16"><circle cx="322" cy="584" r="8"/><text x="322" y="586">16</text></g>
<g id="n17" class="c"><circle cx="398" cy="584" r="10"/><path class="gf" d="M388,584A10,10 0 0 1 408,584Z"/><text class="a" x="398" y="586">17</text></g>
<g id="n18"><circle cx="473" cy="583" r="8"/><text x="473" y="585">18</text></g>
<g id="n19"><circle cx="547" cy="586" r="8"/><text x="547" y="588">19</text></g>
<g id="n20"><circle cx="621" cy="586" r="8"/><text x="621" y="588">20</text></g>
<g id="n21"><circle cx="769" cy="583" r="8"/><text x="769" y="585">21</text></g>
<g id="n23"><circle cx="845" cy="583" r="8"/><text x="845" y="585">23</text></g>
<g id="n33"><circle cx="918" cy="584" r="8"/><text x="918" y="586">33</text></g>
<g id="n1"><circle cx="26" cy="618" r="8"/><text x="26" y="620">1</text></g>
<g id="n2"><circle cx="102" cy="619" r="8"/><text x="102" y="621">2</text></g>
<g id="n3"><circle cx="322" cy="620" r="8"/><text x="322" y="622">3</text></g>
<g id="n4"><circle cx="399" cy="620" r="8"/><text x="399" y="622">4</text></g>
<g id="n5"><circle cx="472" cy="620" r="8"/><text x="472" y="622">5</text></g>
<g id="n6"><circle cx="547" cy="621" r="8"/><text x="547" y="623">6</text></g>
<g id="n7"><circle cx="622" cy="619" r="8"/><text x="622" y="621">7</text></g>
<g id="n8"><circle cx="695" cy="620" r="8"/><text x="695" y="622">8</text></g>
<g id="n9"><circle cx="770" cy="619" r="8"/><text x="770" y="621">9</text></g>
<g id="n12"><circle cx="843" cy="620" r="8"/><text x="843" y="622">12</text></g>
<g id="n13"><circle cx="918" cy="620" r="8"/><text x="918" y="622">13</text></g>
</g>
</svg>
